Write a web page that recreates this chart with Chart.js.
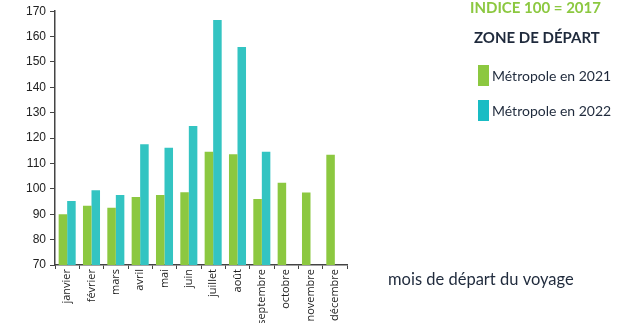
<!DOCTYPE html>
<html>
<head>
<meta charset="utf-8">
<script src="https://cdn.jsdelivr.net/npm/chart.js@4"></script>
<style>
    html, body { margin: 0; padding: 0; background: #fff; }
    #wrap { width: 618px; height: 323px; position: relative; }
</style>
</head>
<body>
<div id="wrap"><canvas id="myChart" width="618" height="323"></canvas></div>
<script>
const months = ['janvier', 'février', 'mars', 'avril', 'mai', 'juin', 'juillet', 'août', 'septembre', 'octobre', 'novembre', 'décembre'];
const metropole2021 = [90, 93.3, 92.6, 96.8, 97.6, 98.7, 114.6, 113.6, 96, 102.4, 98.6, 113.4];
const metropole2022 = [95.2, 99.5, 97.6, 117.6, 116.2, 124.8, 166.5, 155.9, 114.6, null, null, null];
const yTicks = [70, 80, 90, 100, 110, 120, 130, 140, 150, 160, 170];

const green = '#8cc840';
const teal = '#33c4c2';
const navy = '#1f2a3c';

// titles + legend on the right side of the canvas
const sidePanel = {
    id: 'sidePanel',
    afterDraw(chart) {
        const c = chart.ctx;
        c.save();
        c.textBaseline = 'middle';
        c.textAlign = 'left';

        c.fillStyle = green;
        c.font = 'bold 15px Lato';
        c.fillText('INDICE 100 = 2017', 470, 8);

        c.fillStyle = navy;
        c.font = 'bold 15px Lato';
        c.fillText('ZONE DE DÉPART', 474, 38);

        const rows = [
            { y: 65, label: chart.data.datasets[0].label, color: green },
            { y: 100, label: chart.data.datasets[1].label, color: '#19bcc4' },
        ];
        rows.forEach(row => {
            c.fillStyle = row.color;
            c.fillRect(478, row.y, 11, 21);
            c.fillStyle = navy;
            c.font = '14px Lato';
            c.fillText(row.label, 492, row.y + 11);
        });

        c.font = '16.5px Lato';
        c.fillText('mois de départ du voyage', 388, 280);
        c.restore();
    }
};

const ctx = document.getElementById('myChart').getContext('2d');
const myChart = new Chart(ctx, {
    type: 'bar',
    data: {
        labels: months,
        datasets: [{
                label: 'Métropole en 2021',
                data: metropole2021,
                backgroundColor: green,
                borderWidth: 0
            },
            {
                label: 'Métropole en 2022',
                data: metropole2022,
                backgroundColor: teal,
                borderWidth: 0
            }
        ]
    },
    options: {
        responsive: false,
        animation: false,
        layout: {
            padding: { top: 11, right: 271, left: 0, bottom: 0 }
        },
        datasets: {
            bar: { barPercentage: 1, categoryPercentage: 0.7 }
        },
        plugins: {
            legend: { display: false },
            tooltip: { enabled: false }
        },
        scales: {
            x: {
                afterFit(scale) { scale.height = 58; },
                grid: { drawOnChartArea: false, tickLength: 4, color: '#444', lineWidth: 1 },
                border: { color: '#444', width: 1.5 },
                ticks: {
                    autoSkip: false,
                    minRotation: 90,
                    maxRotation: 90,
                    padding: 0,
                    color: '#222',
                    font: { family: 'Open Sans', size: 11 }
                }
            },
            y: {
                min: 70,
                max: 170,
                afterFit(scale) { scale.width = 55; },
                afterBuildTicks(scale) { scale.ticks = yTicks.map(v => ({ value: v })); },
                grid: { drawOnChartArea: false, tickLength: 5, color: '#444', lineWidth: 1 },
                border: { color: '#444', width: 1.5 },
                ticks: {
                    padding: 4,
                    color: '#222',
                    font: { family: 'Liberation Sans', size: 12 }
                }
            }
        }
    },
    plugins: [sidePanel]
});
</script>
</body>
</html>
